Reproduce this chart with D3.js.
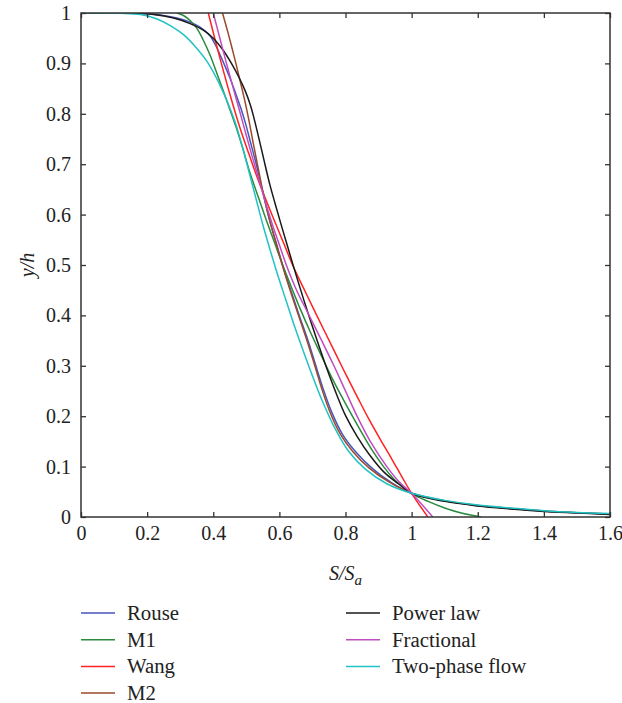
<!DOCTYPE html>
<html>
<head>
<meta charset="utf-8">
<script src="https://cdn.jsdelivr.net/npm/d3@7"></script>
<style>
  html, body { margin: 0; padding: 0; background: #fff; }
  svg { display: block; }
  text { font-family: "Liberation Serif", "DejaVu Serif", serif; fill: #222; }
</style>
</head>
<body>
<svg id="chart" width="622" height="703"></svg>
<script>
// ---- data ----
const xTicks = [0, 0.2, 0.4, 0.6, 0.8, 1, 1.2, 1.4, 1.6];
const yTicks = [0, 0.1, 0.2, 0.3, 0.4, 0.5, 0.6, 0.7, 0.8, 0.9, 1];
const seriesNames = ["Rouse", "M1", "Wang", "M2", "Power law", "Fractional", "Two-phase flow"];
const seriesColors = ["#4656bd", "#2a8a3e", "#ff2222", "#9a4a2a", "#1a1a1a", "#c04cc0", "#22c2c4"];

// each series: [S/Sa, y/h]
const rouse = [[0,1],[0.18,0.9995],[0.24,0.996],[0.29,0.99],[0.33,0.982],[0.36,0.972],[0.39,0.955],[0.41,0.932],[0.43,0.903],[0.45,0.872],[0.468,0.84],[0.484,0.81],[0.498,0.78],[0.512,0.745],[0.53,0.70],[0.55,0.645],[0.57,0.59],[0.59,0.545],[0.612,0.495],[0.637,0.445],[0.66,0.40],[0.684,0.355],[0.708,0.305],[0.732,0.255],[0.757,0.21],[0.79,0.165],[0.83,0.13],[0.88,0.097],[0.935,0.07],[1.0,0.047],[1.1,0.032],[1.2,0.023],[1.3,0.017],[1.4,0.012],[1.5,0.0085],[1.6,0.006]];
const m1 = [[0.29,1.0],[0.31,0.995],[0.33,0.985],[0.35,0.97],[0.37,0.946],[0.39,0.917],[0.41,0.882],[0.43,0.846],[0.45,0.809],[0.47,0.772],[0.49,0.73],[0.51,0.685],[0.535,0.637],[0.56,0.59],[0.585,0.545],[0.61,0.5],[0.637,0.455],[0.665,0.41],[0.695,0.365],[0.727,0.32],[0.762,0.272],[0.8,0.225],[0.84,0.178],[0.88,0.133],[0.915,0.1],[0.95,0.073],[1.0,0.047],[1.05,0.031],[1.1,0.018],[1.15,0.008],[1.21,0.0]];
const wang = [[0.385,1.0],[0.42,0.911],[0.456,0.826],[0.481,0.772],[0.508,0.72],[0.535,0.67],[0.562,0.625],[0.59,0.58],[0.615,0.54],[0.64,0.5],[0.671,0.457],[0.702,0.415],[0.734,0.372],[0.767,0.328],[0.801,0.283],[0.836,0.238],[0.87,0.195],[0.906,0.153],[0.94,0.115],[0.972,0.078],[1.0,0.047],[1.049,0]];
const m2 = [[0.428,1.0],[0.445,0.96],[0.462,0.917],[0.478,0.874],[0.494,0.83],[0.507,0.79],[0.52,0.745],[0.535,0.695],[0.551,0.643],[0.57,0.59],[0.59,0.543],[0.611,0.495],[0.635,0.445],[0.658,0.40],[0.681,0.355],[0.705,0.305],[0.728,0.255],[0.752,0.21],[0.784,0.165],[0.822,0.13],[0.872,0.097],[0.93,0.07],[1.0,0.047],[1.1,0.032],[1.2,0.023],[1.3,0.017],[1.4,0.012],[1.5,0.0085],[1.6,0.006]];
const powerLaw = [[0,1],[0.15,0.9995],[0.22,0.997],[0.28,0.99],[0.33,0.979],[0.37,0.966],[0.40,0.95],[0.43,0.926],[0.455,0.9],[0.478,0.872],[0.497,0.845],[0.512,0.818],[0.523,0.792],[0.533,0.765],[0.544,0.735],[0.557,0.698],[0.571,0.66],[0.587,0.622],[0.604,0.583],[0.622,0.543],[0.64,0.503],[0.659,0.462],[0.679,0.42],[0.70,0.378],[0.722,0.335],[0.746,0.29],[0.772,0.245],[0.801,0.2],[0.835,0.16],[0.873,0.123],[0.918,0.088],[0.96,0.066],[1.0,0.047],[1.1,0.031],[1.2,0.022],[1.3,0.016],[1.4,0.011],[1.5,0.008],[1.6,0.005]];
const fractional = [[0.4,1.0],[0.42,0.95],[0.44,0.9],[0.46,0.852],[0.48,0.805],[0.50,0.757],[0.52,0.71],[0.54,0.665],[0.56,0.62],[0.58,0.578],[0.60,0.54],[0.621,0.5],[0.652,0.45],[0.69,0.4],[0.728,0.35],[0.765,0.3],[0.80,0.25],[0.835,0.2],[0.875,0.15],[0.925,0.1],[0.962,0.07],[1.0,0.047],[1.064,0]];
const twoPhase = [[0,1],[0.12,0.9995],[0.18,0.997],[0.23,0.988],[0.27,0.975],[0.31,0.957],[0.35,0.93],[0.385,0.9],[0.418,0.86],[0.445,0.82],[0.468,0.78],[0.49,0.73],[0.51,0.68],[0.53,0.63],[0.55,0.58],[0.572,0.53],[0.595,0.48],[0.62,0.43],[0.645,0.38],[0.672,0.33],[0.70,0.28],[0.73,0.23],[0.765,0.18],[0.81,0.13],[0.86,0.095],[0.925,0.066],[1.0,0.047],[1.1,0.033],[1.2,0.024],[1.3,0.018],[1.4,0.0125],[1.5,0.009],[1.6,0.007]];
const seriesData = [rouse, m1, wang, m2, powerLaw, fractional, twoPhase];

// ---- layout ----
const svg = d3.select("#chart");
const L = 81, R = 610, T = 13, B = 517;
const x = d3.scaleLinear().domain([0, 1.6]).range([L, R]);
const y = d3.scaleLinear().domain([0, 1]).range([B, T]);
const fmt = d => d3.format("~g")(d);

svg.append("defs").append("clipPath").attr("id", "plotclip")
  .append("rect").attr("x", L).attr("y", T).attr("width", R - L).attr("height", B - T);

// series
const line = d3.line().x(d => x(d[0])).y(d => y(d[1])).curve(d3.curveCatmullRom.alpha(0.5));
const g = svg.append("g").attr("clip-path", "url(#plotclip)");
seriesData.forEach((s, i) => {
  g.append("path").datum(s).attr("d", line)
    .attr("fill", "none").attr("stroke", seriesColors[i]).attr("stroke-width", 1.5);
});

// axes (ticks inside on all sides)
const axisStyle = sel => {
  sel.select(".domain").remove();
  sel.selectAll(".tick line").attr("stroke", "#333").attr("stroke-width", 1.3);
  sel.selectAll(".tick text").attr("font-size", 20).attr("fill", "#222")
     .attr("font-family", "Liberation Serif, DejaVu Serif, serif");
};
svg.append("g").attr("transform", `translate(0,${B})`)
  .call(d3.axisBottom(x).tickValues(xTicks).tickFormat(fmt).tickSizeInner(-5).tickSizeOuter(0).tickPadding(9))
  .call(axisStyle);
svg.append("g").attr("transform", `translate(0,${T})`)
  .call(d3.axisTop(x).tickValues(xTicks).tickFormat("").tickSizeInner(-5).tickSizeOuter(0))
  .call(axisStyle);
svg.append("g").attr("transform", `translate(${L},0)`)
  .call(d3.axisLeft(y).tickValues(yTicks).tickFormat(fmt).tickSizeInner(-5).tickSizeOuter(0).tickPadding(10))
  .call(axisStyle);
svg.append("g").attr("transform", `translate(${R},0)`)
  .call(d3.axisRight(y).tickValues(yTicks).tickFormat("").tickSizeInner(-5).tickSizeOuter(0))
  .call(axisStyle);

svg.append("rect").attr("x", L).attr("y", T).attr("width", R - L).attr("height", B - T)
  .attr("fill", "none").attr("stroke", "#333").attr("stroke-width", 1.5);

// axis titles
const xt = svg.append("text").attr("x", (L + R) / 2).attr("y", 580)
  .attr("text-anchor", "middle").attr("font-size", 20).attr("font-style", "italic");
xt.append("tspan").text("S/S");
xt.append("tspan").attr("dy", 5).attr("font-size", 15).text("a");

svg.append("text").attr("transform", `translate(34,${(T + B) / 2}) rotate(-90)`)
  .attr("text-anchor", "middle").attr("font-size", 20).attr("font-style", "italic").text("y/h");

// legend
const legX = [81, 346], legY0 = 613, legDy = 26.7;
seriesNames.forEach((name, i) => {
  const col = i < 4 ? 0 : 1, row = i < 4 ? i : i - 4;
  const lx = legX[col], ly = legY0 + row * legDy;
  svg.append("line").attr("x1", lx).attr("x2", lx + 34).attr("y1", ly).attr("y2", ly)
    .attr("stroke", seriesColors[i]).attr("stroke-width", 1.5);
  svg.append("text").attr("x", lx + 46).attr("y", ly + 7).attr("font-size", 20.8).text(name);
});
</script>
</body>
</html>
